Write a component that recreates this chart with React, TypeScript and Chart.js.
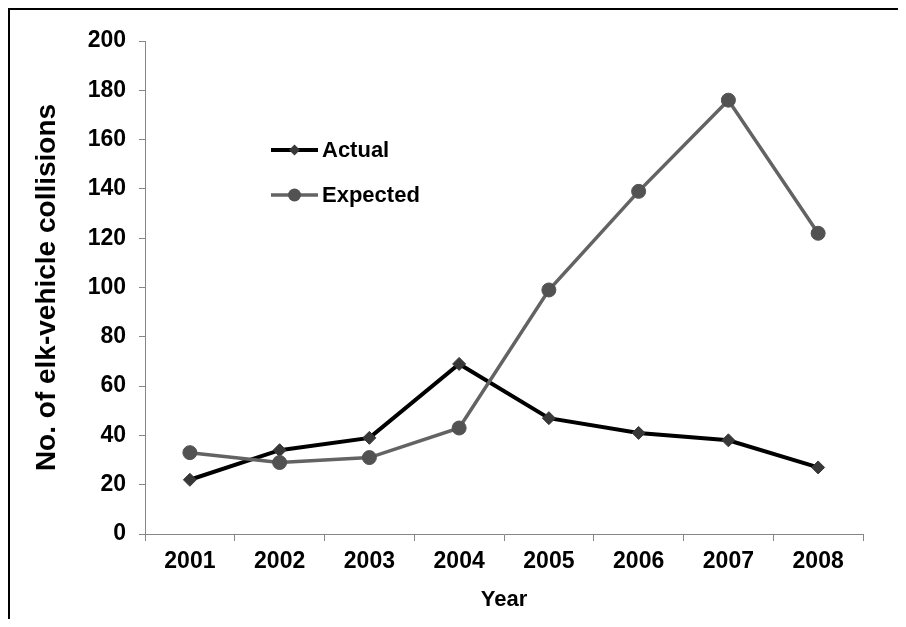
import React, { useEffect, useRef } from "react";
import { Chart, registerables } from "chart.js";

Chart.register(...registerables);

const years = ["2001", "2002", "2003", "2004", "2005", "2006", "2007", "2008"];
const actual = [22, 34, 39, 69, 47, 41, 38, 27];
const expected = [33, 29, 31, 43, 99, 139, 176, 122];
const seriesNames = ["Actual", "Expected"];
const yTitle = "No. of elk-vehicle collisions";
const xTitle = "Year";

const FONT = "'Liberation Sans', Arial, Helvetica, sans-serif";
const AXIS_GRAY = "#868686";

const legendPlugin = {
  id: "insideLegend",
  afterDraw(chart: any) {
    const { ctx, chartArea } = chart;
    const x0 = chartArea.left + 126;
    chart.data.datasets.forEach((ds: any, i: number) => {
      const y = chartArea.top + 109 + i * 45;
      ctx.save();
      ctx.strokeStyle = ds.borderColor;
      ctx.lineWidth = ds.borderWidth;
      ctx.beginPath();
      ctx.moveTo(x0, y);
      ctx.lineTo(x0 + 47, y);
      ctx.stroke();
      const cx = x0 + 23.5;
      ctx.fillStyle = ds.pointBackgroundColor;
      ctx.beginPath();
      if (ds.pointStyle === "rectRot") {
        const r = ds.pointRadius - 1;
        ctx.moveTo(cx - r, y);
        ctx.lineTo(cx, y - r);
        ctx.lineTo(cx + r, y);
        ctx.lineTo(cx, y + r);
        ctx.closePath();
      } else {
        ctx.arc(cx, y, ds.pointRadius - 0.5, 0, Math.PI * 2);
      }
      ctx.fill();
      ctx.fillStyle = "#000";
      ctx.font = `bold 22px ${FONT}`;
      ctx.textBaseline = "middle";
      ctx.textAlign = "left";
      ctx.fillText(ds.label, x0 + 51, y + 1);
      ctx.restore();
    });
  },
};

export default function App() {
  const ref = useRef<HTMLCanvasElement | null>(null);

  useEffect(() => {
    if (!ref.current) return;
    const chart = new Chart(ref.current, {
      type: "line",
      data: {
        labels: years,
        datasets: [
          {
            label: seriesNames[0],
            data: actual,
            borderColor: "#000000",
            borderWidth: 4,
            pointStyle: "rectRot",
            pointRadius: 6.5,
            pointBackgroundColor: "#383838",
            pointBorderColor: "#383838",
            pointBorderWidth: 1,
            tension: 0,
            order: 1,
          },
          {
            label: seriesNames[1],
            data: expected,
            borderColor: "#636363",
            borderWidth: 3.5,
            pointStyle: "circle",
            pointRadius: 7,
            pointBackgroundColor: "#525252",
            pointBorderColor: "#525252",
            pointBorderWidth: 1,
            tension: 0,
            order: 0,
          },
        ],
      },
      options: {
        animation: false,
        responsive: false,
        layout: { padding: { top: 31, left: 0, right: 43, bottom: 0 } },
        plugins: {
          legend: { display: false },
          tooltip: { enabled: false },
        },
        scales: {
          x: {
            type: "category",
            offset: true,
            grid: {
              offset: true,
              drawOnChartArea: false,
              drawTicks: true,
              tickLength: 7,
              color: AXIS_GRAY,
              lineWidth: 1,
            },
            border: { display: true, color: AXIS_GRAY, width: 1 },
            ticks: {
              color: "#000",
              padding: 7,
              font: { family: FONT, size: 23, weight: "bold" },
              maxRotation: 0,
            },
            title: {
              display: true,
              text: xTitle,
              color: "#000",
              font: { family: FONT, size: 22, weight: "bold" },
              padding: { top: 0, bottom: 6 },
            },
            afterFit(scale: any) {
              scale.height = 85;
            },
          },
          y: {
            min: 0,
            max: 200,
            grid: {
              drawOnChartArea: false,
              drawTicks: true,
              tickLength: 6,
              color: AXIS_GRAY,
              lineWidth: 1,
            },
            border: { display: true, color: AXIS_GRAY, width: 1 },
            ticks: {
              stepSize: 20,
              color: "#000",
              padding: 13,
              font: { family: FONT, size: 23, weight: "bold" },
            },
            title: {
              display: true,
              text: yTitle,
              color: "#000",
              font: { family: FONT, size: 28, weight: "bold" },
              padding: { top: 20, bottom: 0 },
            },
            afterFit(scale: any) {
              scale.width = 135;
            },
          },
        },
      },
      plugins: [legendPlugin],
    });
    return () => chart.destroy();
  }, []);

  return (
    <div
      style={{
        width: 898,
        height: 611,
        boxSizing: "border-box",
        borderTop: "2px solid #000",
        borderLeft: "2px solid #000",
        overflow: "hidden",
      }}
    >
      <canvas ref={ref} width={896} height={609} style={{ display: "block" }} />
    </div>
  );
}
